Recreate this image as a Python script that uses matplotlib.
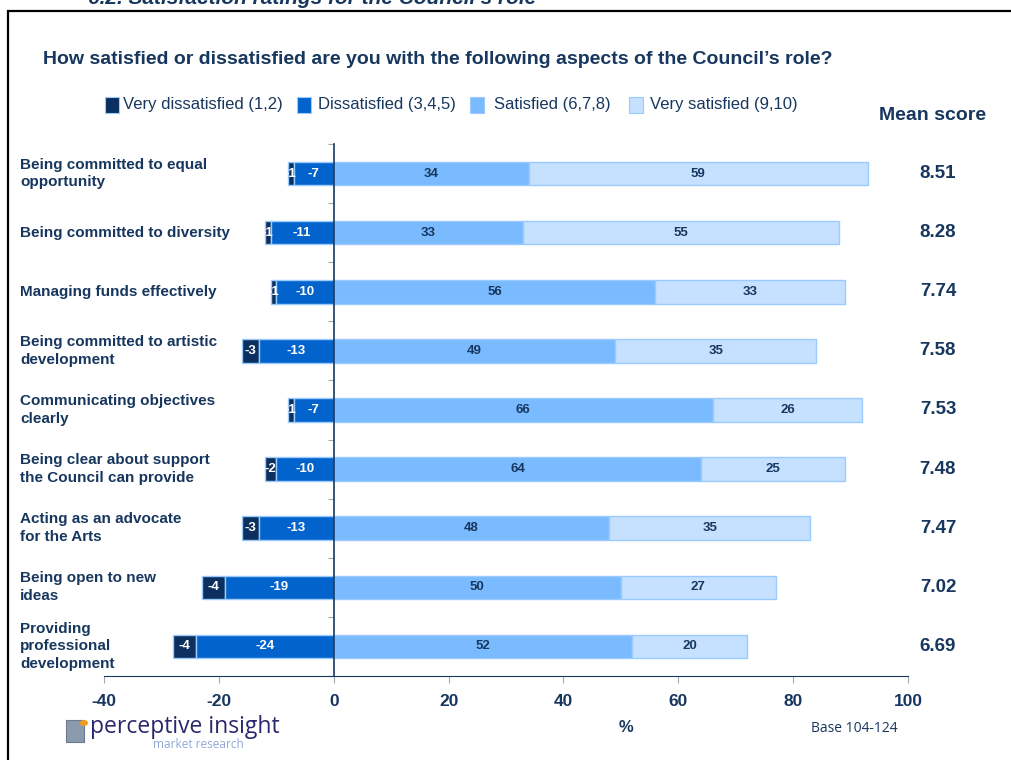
# satisfaction with the Council's role - diverging stacked bars
import matplotlib.pyplot as plt
import matplotlib.transforms as mtransforms
from matplotlib.patches import Rectangle, Circle
import numpy as np

plt.rcParams['font.family'] = ['Liberation Sans', 'DejaVu Sans']
plt.rcParams['axes.unicode_minus'] = False

# data
aspects = ['Being committed to equal\nopportunity',
           'Being committed to diversity',
           'Managing funds effectively',
           'Being committed to artistic\ndevelopment',
           'Communicating objectives\nclearly',
           'Being clear about support\nthe Council can provide',
           'Acting as an advocate\nfor the Arts',
           'Being open to new\nideas',
           'Providing\nprofessional\ndevelopment']
very_dis = [-1, -1, -1, -3, -1, -2, -3, -4, -4]
dis = [-7, -11, -10, -13, -7, -10, -13, -19, -24]
sat = [34, 33, 56, 49, 66, 64, 48, 50, 52]
very_sat = [59, 55, 33, 35, 26, 25, 35, 27, 20]
mean_score = ['8.51', '8.28', '7.74', '7.58', '7.53', '7.48', '7.47', '7.02', '6.69']
legend_labels = ['Very dissatisfied (1,2)', 'Dissatisfied (3,4,5)',
                 'Satisfied (6,7,8)', 'Very satisfied (9,10)']

navy = '#17375E'
colors = ['#0B2F5E', '#0363CC', '#7ABAFF', '#C5E1FF']
edge = '#9ACBFF'

fig = plt.figure(figsize=(10.11, 7.6), dpi=100)
ax = fig.add_axes([104/1011, 1-676/760, 804/1011, 532/760])

y = np.arange(len(aspects))
h = 0.4
vd = np.array(very_dis)
d = np.array(dis)
s = np.array(sat)
vs = np.array(very_sat)

segs = [(vd, d), (d, 0), (s, 0), (vs, s)]
for (w, left), c in zip(segs, colors):
    ax.barh(y, w, left=left, height=h, color=c, edgecolor=edge, linewidth=1, zorder=2)

# value labels
for i in range(len(y)):
    ax.text(d[i] + vd[i]/2, y[i], str(vd[i]), ha='center', va='center',
            color='white', fontsize=9.5, fontweight='bold', zorder=3)
    ax.text(d[i]/2, y[i], str(d[i]), ha='center', va='center',
            color='white', fontsize=9.5, fontweight='bold', zorder=3)
    ax.text(s[i]/2, y[i], str(s[i]), ha='center', va='center',
            color=navy, fontsize=9.5, fontweight='bold', zorder=3)
    ax.text(s[i] + vs[i]/2, y[i], str(vs[i]), ha='center', va='center',
            color=navy, fontsize=9.5, fontweight='bold', zorder=3)

ax.set_xlim(-40, 100)
ax.set_ylim(len(aspects) - 0.5, -0.5)
ax.set_xticks(np.arange(-40, 101, 20))
ax.tick_params(axis='x', colors='#A0A8B8', length=5, labelsize=12.5, pad=8)
for lab in ax.get_xticklabels():
    lab.set_color(navy)
    lab.set_fontweight('bold')

# left spine sits on zero, ticks between categories
ax.spines['left'].set_position(('data', 0))
ax.spines['left'].set_color(navy)
ax.spines['left'].set_linewidth(1.2)
ax.spines['left'].set_zorder(4)
ax.spines['bottom'].set_color(navy)
ax.spines['top'].set_visible(False)
ax.spines['right'].set_visible(False)
ax.set_yticks(np.arange(-0.5, len(aspects), 1))
ax.set_yticklabels([])
ax.tick_params(axis='y', colors='#A0A8B8', length=4)

# category names and mean scores
trans = mtransforms.blended_transform_factory(fig.transFigure, ax.transData)
for i, name in enumerate(aspects):
    fig.text(20/1011, y[i], name, transform=trans, ha='left', va='center',
             color=navy, fontsize=11, fontweight='bold', linespacing=1.35)
    fig.text(938/1011, y[i], mean_score[i], transform=trans, ha='center', va='center',
             color=navy, fontsize=13.5, fontweight='bold')

fig.text(933/1011, 1-116/760, 'Mean score', ha='center', va='center',
         color=navy, fontsize=14, fontweight='bold')

# titles
fig.text(43/1011, 1-60/760,
         'How satisfied or dissatisfied are you with the following aspects of the Council\u2019s role?',
         ha='left', va='center', color=navy, fontsize=14, fontweight='bold')
fig.text(536/1011, 1-4/760, '6.2. Satisfaction ratings for the Council\u2019s role',
         ha='right', va='baseline', color=navy, fontsize=15, fontweight='bold',
         style='italic')

# legend drawn by hand
sq_x = [105, 297, 470, 629]
tx_x = [123, 318, 494, 650]
for c, sx, tx, lab in zip(colors, sq_x, tx_x, legend_labels):
    fig.patches.append(Rectangle((sx/1011, 1-113/760), 14/1011, 16/760,
                                 transform=fig.transFigure, facecolor=c,
                                 edgecolor=edge, linewidth=0.8))
    fig.text(tx/1011, 1-105/760, lab, ha='left', va='center',
             color=navy, fontsize=12)

fig.text(626/1011, 1-728/760, '%', ha='center', va='center',
         color=navy, fontsize=12, fontweight='bold')
fig.text(811/1011, 1-728/760, 'Base 104-124', ha='left', va='center',
         color=navy, fontsize=10, family=['Open Sans', 'DejaVu Sans'])

# logo
fig.patches.append(Rectangle((66/1011, 1-742/760), 18/1011, 22/760,
                             transform=fig.transFigure, facecolor='#8C9AAE',
                             edgecolor='#6B7A90', linewidth=0.8))
fig.patches.append(Circle((84/1011, 1-723/760), 4/1011,
                          transform=fig.transFigure, facecolor='#F29A1E',
                          edgecolor='none'))
fig.text(90/1011, 1-727/760, 'perceptive insight', ha='left', va='center',
         color='#28286E', fontsize=16.5, family=['Open Sans', 'DejaVu Sans'])
fig.text(153/1011, 1-745/760, 'market research', ha='left', va='center',
         color='#8FA8D8', fontsize=8.5, family=['Open Sans', 'DejaVu Sans'])

# frame around the panel
fig.patches.append(Rectangle((8/1011, -0.1), 1.2, 1-11/760 + 0.1,
                             transform=fig.transFigure, facecolor='none',
                             edgecolor='black', linewidth=1.6, clip_on=False))

fig.savefig('out.png', dpi=100)
